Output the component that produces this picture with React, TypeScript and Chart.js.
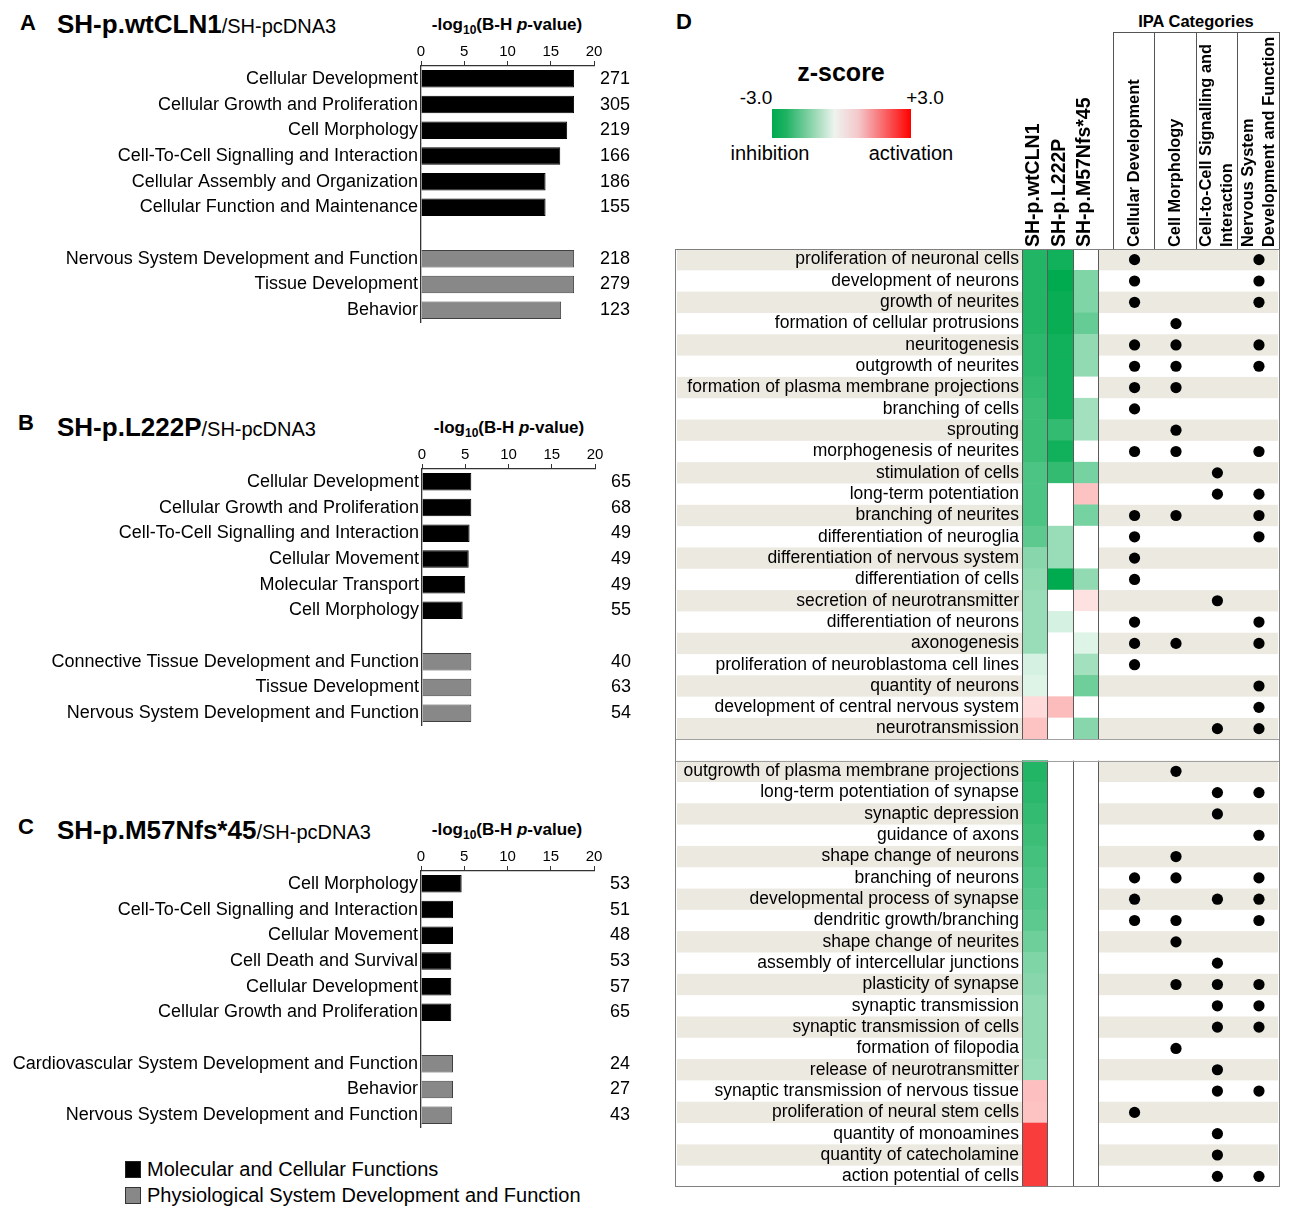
import React, { useEffect, useRef } from 'react';
import { Chart, registerables } from 'chart.js';

Chart.register(...registerables);

const FONT = "'Liberation Sans', Arial, Helvetica, sans-serif";
Chart.defaults.font.family = FONT;
Chart.defaults.color = '#000';

// ---------------- Panel A ----------------
const catsA = ['Cellular Development', 'Cellular Growth and Proliferation', 'Cell Morphology', 'Cell-To-Cell Signalling and Interaction', 'Cellular Assembly and Organization', 'Cellular Function and Maintenance', '', 'Nervous System Development and Function', 'Tissue Development', 'Behavior'];
const valsA = [17.7, 17.7, 16.9, 16.1, 14.4, 14.4, null, 17.7, 17.7, 16.2];
const countsA = ['271', '305', '219', '166', '186', '155', '', '218', '279', '123'];
const groupsA = ['M', 'M', 'M', 'M', 'M', 'M', '', 'P', 'P', 'P'];

// ---------------- Panel B ----------------
const catsB = ['Cellular Development', 'Cellular Growth and Proliferation', 'Cell-To-Cell Signalling and Interaction', 'Cellular Movement', 'Molecular Transport', 'Cell Morphology', '', 'Connective Tissue Development and Function', 'Tissue Development', 'Nervous System Development and Function'];
const valsB = [5.7, 5.7, 5.5, 5.4, 5.0, 4.7, null, 5.7, 5.7, 5.7];
const countsB = ['65', '68', '49', '49', '49', '55', '', '40', '63', '54'];
const groupsB = ['M', 'M', 'M', 'M', 'M', 'M', '', 'P', 'P', 'P'];

// ---------------- Panel C ----------------
const catsC = ['Cell Morphology', 'Cell-To-Cell Signalling and Interaction', 'Cellular Movement', 'Cell Death and Survival', 'Cellular Development', 'Cellular Growth and Proliferation', '', 'Cardiovascular System Development and Function', 'Behavior', 'Nervous System Development and Function'];
const valsC = [4.7, 3.7, 3.7, 3.5, 3.5, 3.5, null, 3.7, 3.7, 3.6];
const countsC = ['53', '51', '48', '53', '57', '65', '', '24', '27', '43'];
const groupsC = ['M', 'M', 'M', 'M', 'M', 'M', '', 'P', 'P', 'P'];

const xTicks = [0, 20];

// ---------------- Panel D ----------------
const rowsD = [
  'proliferation of neuronal cells', 'development of neurons', 'growth of neurites', 'formation of cellular protrusions',
  'neuritogenesis', 'outgrowth of neurites', 'formation of plasma membrane projections', 'branching of cells', 'sprouting',
  'morphogenesis of neurites', 'stimulation of cells', 'long-term potentiation', 'branching of neurites',
  'differentiation of neuroglia', 'differentiation of nervous system', 'differentiation of cells',
  'secretion of neurotransmitter', 'differentiation of neurons', 'axonogenesis', 'proliferation of neuroblastoma cell lines',
  'quantity of neurons', 'development of central nervous system', 'neurotransmission',
  '',
  'outgrowth of plasma membrane projections', 'long-term potentiation of synapse', 'synaptic depression', 'guidance of axons',
  'shape change of neurons', 'branching of neurons', 'developmental process of synapse', 'dendritic growth/branching',
  'shape change of neurites', 'assembly of intercellular junctions', 'plasticity of synapse', 'synaptic transmission',
  'synaptic transmission of cells', 'formation of filopodia', 'release of neurotransmitter',
  'synaptic transmission of nervous tissue', 'proliferation of neural stem cells', 'quantity of monoamines',
  'quantity of catecholamine', 'action potential of cells',
];
const sampleNames = ['SH-p.wtCLN1', 'SH-p.L222P', 'SH-p.M57Nfs*45'];
const zWt = [
  -2.6, -2.6, -2.6, -2.6, -2.5, -2.5, -2.4, -2.3, -2.3, -2.3, -2.1, -2.1, -2.1, -1.9, -1.4, -1.3, -1.2, -1.2, -1.2, -0.5, -0.4, 0.5, 0.8,
  null,
  -2.6, -2.5, -2.4, -2.3, -2.2, -2.1, -2.0, -1.9, -1.7, -1.5, -1.4, -1.3, -1.3, -1.3, -1.2, 0.85, 0.8, 2.6, 2.6, 2.6,
];
const zL222P = [
  -2.8, -3.0, -2.9, -2.9, -2.8, -2.8, -2.8, -2.8, -2.4, -2.8, -2.4, null, null, -1.2, -1.2, -3.0, null, -0.5, null, null, null, 0.9, null,
  null,
  null, null, null, null, null, null, null, null, null, null, null, null, null, null, null, null, null, null, null, null,
];
const zM57 = [
  null, -1.5, -1.5, -1.8, -1.3, -1.3, null, -1.1, -1.1, null, -1.6, 0.8, -1.6, null, null, -1.3, 0.4, null, -0.4, -1.1, -1.7, null, -1.4,
  null,
  null, null, null, null, null, null, null, null, null, null, null, null, null, null, null, null, null, null, null, null,
];

const ipaHeaders = [['Cellular Development'], ['Cell Morphology'], ['Cell-to-Cell Signalling and', 'Interaction'], ['Nervous System', 'Development and Function']];
const ipaCellDev = [
  'proliferation of neuronal cells', 'development of neurons', 'growth of neurites', 'neuritogenesis', 'outgrowth of neurites',
  'formation of plasma membrane projections', 'branching of cells', 'morphogenesis of neurites', 'branching of neurites',
  'differentiation of neuroglia', 'differentiation of nervous system', 'differentiation of cells', 'differentiation of neurons',
  'axonogenesis', 'proliferation of neuroblastoma cell lines',
  'branching of neurons', 'developmental process of synapse', 'dendritic growth/branching', 'proliferation of neural stem cells',
];
const ipaCellMorph = [
  'formation of cellular protrusions', 'neuritogenesis', 'outgrowth of neurites', 'formation of plasma membrane projections',
  'sprouting', 'morphogenesis of neurites', 'branching of neurites', 'axonogenesis',
  'outgrowth of plasma membrane projections', 'shape change of neurons', 'branching of neurons', 'dendritic growth/branching',
  'shape change of neurites', 'plasticity of synapse', 'formation of filopodia',
];
const ipaCellSignal = [
  'stimulation of cells', 'long-term potentiation', 'secretion of neurotransmitter', 'neurotransmission',
  'long-term potentiation of synapse', 'synaptic depression', 'developmental process of synapse', 'assembly of intercellular junctions',
  'plasticity of synapse', 'synaptic transmission', 'synaptic transmission of cells', 'release of neurotransmitter',
  'synaptic transmission of nervous tissue', 'quantity of monoamines', 'quantity of catecholamine', 'action potential of cells',
];
const ipaNervous = [
  'proliferation of neuronal cells', 'development of neurons', 'growth of neurites', 'neuritogenesis', 'outgrowth of neurites',
  'morphogenesis of neurites', 'long-term potentiation', 'branching of neurites', 'differentiation of neuroglia',
  'differentiation of neurons', 'axonogenesis', 'quantity of neurons', 'development of central nervous system', 'neurotransmission',
  'long-term potentiation of synapse', 'guidance of axons', 'branching of neurons', 'developmental process of synapse',
  'dendritic growth/branching', 'plasticity of synapse', 'synaptic transmission', 'synaptic transmission of cells',
  'synaptic transmission of nervous tissue', 'action potential of cells',
];
const ipaMembers = [ipaCellDev, ipaCellMorph, ipaCellSignal, ipaNervous];

// layout constants for panel D (x in heat-column units)
const ipaEdges = [3.61, 5.22, 6.86, 8.47, 10.12];

const zColor = (z: number | null) => {
  if (z === null || z === undefined) return '#ffffff';
  const t = Math.min(1, Math.abs(z) / 3);
  const base = z < 0 ? [0, 170, 78] : [248, 30, 30];
  const mix = (c: number) => Math.round(255 + (c - 255) * t);
  return `rgb(${mix(base[0])},${mix(base[1])},${mix(base[2])})`;
};

const noPad = (s: any) => { s.paddingTop = 0; s.paddingBottom = 0; s.paddingLeft = 0; s.paddingRight = 0; };

type BarProps = { cats: string[]; vals: (number | null)[]; counts: string[]; groups: string[]; top: number; axisLeft: number };

function BarPanel({ cats, vals, counts, groups, top, axisLeft }: BarProps) {
  const ref = useRef<HTMLCanvasElement>(null);
  const plotW = 173, rightW = 36, axisH = 23, plotH = 257;
  const width = axisLeft + plotW + rightW;
  const height = axisH + plotH;
  useEffect(() => {
    const chart = new Chart(ref.current!, {
      type: 'bar',
      data: {
        labels: cats,
        datasets: [{
          data: vals as any,
          backgroundColor: groups.map((g) => (g === 'M' ? '#000000' : '#888888')),
          borderColor: groups.map((g) => (g === 'M' ? '#000000' : '#404040')),
          borderWidth: 1,
          barPercentage: 0.68,
          categoryPercentage: 1,
        }],
      },
      options: {
        indexAxis: 'y',
        animation: false,
        responsive: false,
        devicePixelRatio: 1,
        events: [],
        layout: { padding: 0, autoPadding: false },
        plugins: { legend: { display: false }, tooltip: { enabled: false } },
        scales: {
          x: {
            position: 'top', min: xTicks[0], max: xTicks[1],
            ticks: { stepSize: 5, font: { size: 15 }, color: '#000', padding: 0, maxRotation: 0 },
            grid: { display: true, drawOnChartArea: false, drawTicks: true, tickLength: 5, color: '#333' },
            border: { display: true, color: '#333', width: 1.3 },
            afterFit: (s: any) => { s.height = axisH; noPad(s); },
          },
          y: {
            ticks: { font: { size: 18 }, color: '#000', padding: 3, autoSkip: false },
            grid: { display: false, drawTicks: false },
            border: { display: true, color: '#333', width: 1.3 },
            afterFit: (s: any) => { s.width = axisLeft; noPad(s); },
          },
          y2: {
            type: 'category', labels: counts, offset: true, position: 'right',
            ticks: { font: { size: 18 }, color: '#000', padding: 0, autoSkip: false, crossAlign: 'far' },
            grid: { display: false, drawTicks: false },
            border: { display: false },
            afterFit: (s: any) => { s.width = rightW; noPad(s); },
          },
        } as any,
      },
    });
    return () => chart.destroy();
  }, []);
  return <canvas ref={ref} width={width} height={height} style={{ position: 'absolute', left: 0, top: top - axisH, width, height }} />;
}

function HeatPanel() {
  const ref = useRef<HTMLCanvasElement>(null);
  const W = 606, H = 1188, TOP = 249, LABELW = 347;
  useEffect(() => {
    const centers = ipaEdges.slice(0, 4).map((e, i) => (e + ipaEdges[i + 1]) / 2);
    const heat = [zWt, zL222P, zM57].map((arr, s) => ({
      type: 'bar' as const,
      data: rowsD.map((r) => (r === '' ? null : [s, s + 1])),
      backgroundColor: arr.map(zColor),
      borderWidth: 0,
      grouped: false,
      barPercentage: 1,
      categoryPercentage: 1,
      order: 2,
    }));
    const dots = ipaMembers.map((members, c) => ({
      type: 'scatter' as const,
      data: members.map((r) => ({ x: centers[c], y: r })),
      pointRadius: 5.6,
      pointBackgroundColor: '#000',
      backgroundColor: '#000',
      borderColor: '#000',
      pointBorderWidth: 0,
      showLine: false,
      order: 0,
    }));
    const tablePlugin = {
      id: 'tablePlugin',
      beforeDraw(chart: any) {
        const { ctx, chartArea: a, scales: { y } } = chart;
        const h = Math.abs(y.getPixelForValue(1) - y.getPixelForValue(0));
        ctx.save();
        let k = 0;
        rowsD.forEach((r, i) => {
          if (r === '') { k = 0; return; }
          if (k % 2 === 0) {
            const yc = y.getPixelForValue(i);
            ctx.fillStyle = '#ece9e1';
            ctx.fillRect(2, yc - h / 2, a.right - 4, h);
          }
          k++;
        });
        ctx.restore();
      },
      afterDatasetsDraw(chart: any) {
        const { ctx, chartArea: a, scales: { x, y } } = chart;
        const h = Math.abs(y.getPixelForValue(1) - y.getPixelForValue(0));
        const gap = rowsD.indexOf('');
        const groupsRange = [[0, gap - 1], [gap + 1, rowsD.length - 1]];
        ctx.save();
        ctx.strokeStyle = '#5a5a5a';
        ctx.lineWidth = 1;
        groupsRange.forEach(([g0, g1]) => {
          const t = y.getPixelForValue(g0) - h / 2;
          const b = y.getPixelForValue(g1) + h / 2;
          [0, 1, 2, 3].forEach((v) => {
            const px = Math.round(x.getPixelForValue(v)) + 0.5;
            ctx.beginPath(); ctx.moveTo(px, t); ctx.lineTo(px, b); ctx.stroke();
          });
        });
        ctx.strokeStyle = '#a0a0a0';
        [y.getPixelForValue(gap) - h / 2, y.getPixelForValue(gap) + h / 2].forEach((py) => {
          const p = Math.round(py) + 0.5;
          ctx.beginPath(); ctx.moveTo(0, p); ctx.lineTo(a.right, p); ctx.stroke();
        });
        ctx.strokeStyle = '#808080';
        ctx.strokeRect(0.5, a.top + 0.5, a.right - 1, a.bottom - a.top - 1);
        ctx.restore();
      },
      afterDraw(chart: any) {
        const { ctx, chartArea: a, scales: { x } } = chart;
        ctx.save();
        ctx.strokeStyle = '#555';
        ctx.lineWidth = 1;
        const hx = ipaEdges.map((e) => Math.round(x.getPixelForValue(e)) - 0.5);
        ctx.beginPath(); ctx.moveTo(hx[0], 32.5); ctx.lineTo(hx[hx.length - 1], 32.5); ctx.stroke();
        hx.forEach((px) => { ctx.beginPath(); ctx.moveTo(px, 32); ctx.lineTo(px, a.top); ctx.stroke(); });
        ctx.fillStyle = '#000';
        ctx.textAlign = 'left';
        ctx.textBaseline = 'middle';
        ctx.font = `bold 19.5px ${FONT}`;
        sampleNames.forEach((n, s) => {
          ctx.save();
          ctx.translate(x.getPixelForValue(s + 0.5) - 1, a.top - 2);
          ctx.rotate(-Math.PI / 2);
          ctx.fillText(n, 0, 0);
          ctx.restore();
        });
        ctx.font = `bold 16.4px ${FONT}`;
        ipaHeaders.forEach((lines, c) => {
          const cx = x.getPixelForValue((ipaEdges[c] + ipaEdges[c + 1]) / 2);
          lines.forEach((ln, j) => {
            const off = (j - (lines.length - 1) / 2) * 21;
            ctx.save();
            ctx.translate(cx + off, a.top - 2);
            ctx.rotate(-Math.PI / 2);
            ctx.fillText(ln, 0, 0);
            ctx.restore();
          });
        });
        ctx.restore();
      },
    };
    const chart = new Chart(ref.current!, {
      type: 'bar',
      data: { labels: rowsD, datasets: [...heat, ...dots] as any },
      options: {
        indexAxis: 'y',
        animation: false,
        responsive: false,
        devicePixelRatio: 1,
        events: [],
        layout: { padding: { top: TOP, bottom: 1, left: 0, right: 1 }, autoPadding: false },
        plugins: { legend: { display: false }, tooltip: { enabled: false } },
        scales: {
          x: { type: 'linear', display: false, min: 0, max: ipaEdges[ipaEdges.length - 1], afterFit: noPad },
          y: {
            type: 'category', offset: true,
            ticks: { font: { size: 17.5 }, color: '#000', padding: 3, autoSkip: false },
            grid: { display: false, drawTicks: false },
            border: { display: false },
            afterFit: (s: any) => { s.width = LABELW; noPad(s); },
          },
        } as any,
      },
      plugins: [tablePlugin],
    });
    return () => chart.destroy();
  }, []);
  return <canvas ref={ref} width={W} height={H} style={{ position: 'absolute', left: 675, top: 0, width: W, height: H }} />;
}

const Txt = ({ x, y, align = 'left', style, children }: any) => (
  <div
    style={{
      position: 'absolute', left: x, top: y,
      transform: `translate(${align === 'center' ? '-50%' : align === 'right' ? '-100%' : '0'}, -50%)`,
      whiteSpace: 'nowrap', lineHeight: 1, fontFamily: FONT, color: '#000', ...style,
    }}
  >
    {children}
  </div>
);

const AxisTitle = ({ x, y }: any) => (
  <Txt x={x} y={y} align="center" style={{ fontWeight: 'bold', fontSize: 17 }}>
    -log<span style={{ fontSize: 12, position: 'relative', top: 4 }}>10</span>(B-H <i>p</i>-value)
  </Txt>
);

const Title = ({ x, y, main }: any) => (
  <Txt x={x} y={y}>
    <span style={{ fontWeight: 'bold', fontSize: 26 }}>{main}</span>
    <span style={{ fontSize: 20 }}>/SH-pcDNA3</span>
  </Txt>
);

export default function App() {
  return (
    <div style={{ position: 'absolute', left: 0, top: 0, width: 1300, height: 1226, background: '#fff', overflow: 'hidden', fontFamily: FONT }}>
      {/* Panel A */}
      <Txt x={20} y={23} style={{ fontWeight: 'bold', fontSize: 22 }}>A</Txt>
      <Title x={57} y={24} main="SH-p.wtCLN1" />
      <AxisTitle x={507} y={24} />
      <BarPanel cats={catsA} vals={valsA} counts={countsA} groups={groupsA} top={66} axisLeft={421} />

      {/* Panel B */}
      <Txt x={18} y={423} style={{ fontWeight: 'bold', fontSize: 22 }}>B</Txt>
      <Title x={57} y={427} main="SH-p.L222P" />
      <AxisTitle x={509} y={427} />
      <BarPanel cats={catsB} vals={valsB} counts={countsB} groups={groupsB} top={469} axisLeft={422} />

      {/* Panel C */}
      <Txt x={18} y={827} style={{ fontWeight: 'bold', fontSize: 22 }}>C</Txt>
      <Title x={57} y={830} main="SH-p.M57Nfs*45" />
      <AxisTitle x={507} y={829} />
      <BarPanel cats={catsC} vals={valsC} counts={countsC} groups={groupsC} top={871} axisLeft={421} />

      {/* Legend */}
      <div style={{ position: 'absolute', left: 125, top: 1161, width: 14, height: 15, background: '#000', border: '1.5px solid #222' }} />
      <Txt x={147} y={1169} style={{ fontSize: 20 }}>Molecular and Cellular Functions</Txt>
      <div style={{ position: 'absolute', left: 125, top: 1187, width: 14, height: 15, background: '#888888', border: '1.5px solid #333' }} />
      <Txt x={147} y={1195} style={{ fontSize: 20 }}>Physiological System Development and Function</Txt>

      {/* Panel D */}
      <Txt x={676} y={22} style={{ fontWeight: 'bold', fontSize: 22 }}>D</Txt>
      <Txt x={841} y={72} align="center" style={{ fontWeight: 'bold', fontSize: 25 }}>z-score</Txt>
      <Txt x={756} y={97} align="center" style={{ fontSize: 19 }}>-3.0</Txt>
      <Txt x={925} y={97} align="center" style={{ fontSize: 19 }}>+3.0</Txt>
      <div style={{ position: 'absolute', left: 772, top: 109, width: 139, height: 29, background: 'linear-gradient(90deg, rgb(0,170,78) 0%, rgb(30,178,98) 10%, rgb(238,243,238) 45%, rgb(244,200,204) 62%, rgb(255,0,0) 100%)' }} />
      <Txt x={770} y={153} align="center" style={{ fontSize: 20 }}>inhibition</Txt>
      <Txt x={911} y={153} align="center" style={{ fontSize: 20 }}>activation</Txt>
      <Txt x={1196} y={21} align="center" style={{ fontWeight: 'bold', fontSize: 16.5 }}>IPA Categories</Txt>
      <HeatPanel />
    </div>
  );
}
